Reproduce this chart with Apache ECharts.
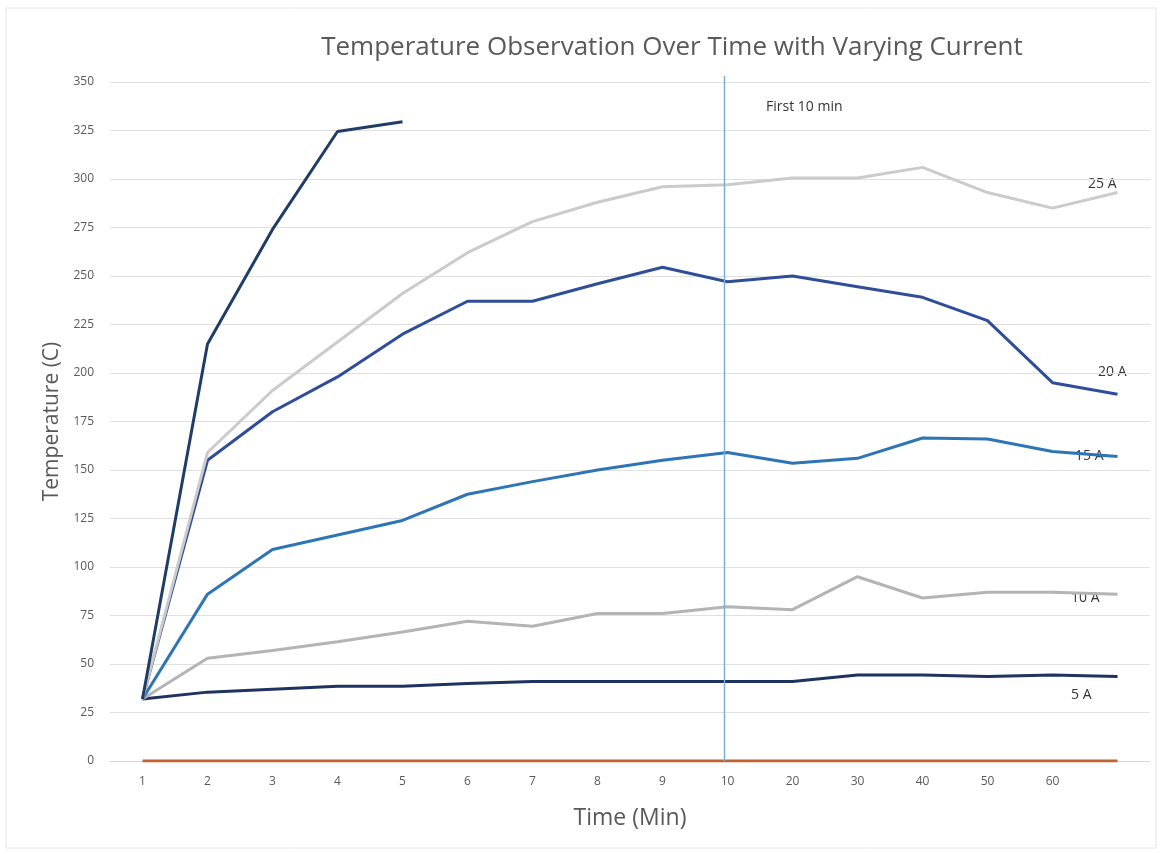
<!DOCTYPE html>
<html>
<head>
<meta charset="utf-8">
<script src="https://cdn.jsdelivr.net/npm/echarts@6/dist/echarts.min.js"></script>
<style>html,body{margin:0;padding:0;background:#fff;}#c{width:1160px;height:854px;}</style>
</head>
<body>
<div id="c"></div>
<script>
const categories = ['1','2','3','4','5','6','7','8','9','10','20','30','40','50','60',''];
const yTicks = [0,25,50,75,100,125,150,175,200,225,250,275,300,325,350];
const zeroLine = [0,0,0,0,0,0,0,0,0,0,0,0,0,0,0,0];
const a5  = [32,35.5,37,38.5,38.5,40,41,41,41,41,41,44.3,44.3,43.5,44.3,43.5];
const a10 = [32,53,57,61.5,66.5,72,69.5,76,76,79.5,78,95,84,87,87,86];
const a15 = [32,86,109,116.5,124,137.5,144,150,155,159,153.5,156,166.5,166,159.5,157];
const a20 = [32,155,180,198,220,237,237,246,254.5,247,250,244.5,239,227,195,189];
const a25 = [32,159,191,216,241,262,278,288,296,297,300.5,300.5,306,293,285,293];
const a30 = [32,215,274,324.5,329.5];
const seriesNames = ['0 A','5 A','10 A','15 A','20 A','25 A','30 A'];
const markerCategory = '10';

const chart = echarts.init(document.getElementById('c'));
const FONT = '"Open Sans", "Liberation Sans", sans-serif';
function line(name, data, color, z){
  return {name, type:'line', data, symbol:'none', smooth:false, z,
    lineStyle:{color, width:3}, itemStyle:{color}};
}
const labelGraphics = [
  {type:'rect', shape:{x:6,y:8,width:1150,height:840}, style:{fill:'none', stroke:'#e6e6e6', lineWidth:1}, z:-1},
  {type:'text', left:766, top:100, style:{text:'First 10 min', font:'14px '+FONT, fill:'#333333'}},
  {type:'text', left:1088, top:177, style:{text:'25 A', font:'14px '+FONT, fill:'#333333'}},
  {type:'text', left:1098, top:365, style:{text:'20 A', font:'14px '+FONT, fill:'#333333'}},
  {type:'text', left:1075, top:449, style:{text:'15 A', font:'14px '+FONT, fill:'#333333'}},
  {type:'text', left:1071, top:591, style:{text:'10 A', font:'14px '+FONT, fill:'#333333'}},
  {type:'text', left:1071, top:688, style:{text:'5 A', font:'14px '+FONT, fill:'#333333'}}
];
chart.setOption({
  animation:false,
  backgroundColor:'#ffffff',
  title:{text:'Temperature Observation Over Time with Varying Current', left:667, top:30, textAlign:'center',
    textStyle:{fontFamily:FONT, fontSize:26, fontWeight:'normal', color:'#595959'}},
  grid:{left:110, right:10, top:82, bottom:93},
  xAxis:{type:'category', data:categories, boundaryGap:true,
    name:'Time (Min)', nameLocation:'middle', nameGap:46,
    nameTextStyle:{fontFamily:FONT, fontSize:23, color:'#595959'},
    axisLine:{lineStyle:{color:'#d9d9d9'}}, axisTick:{show:false},
    axisLabel:{fontFamily:FONT, fontSize:12, color:'#595959', margin:15}},
  yAxis:{type:'value', min:0, max:350, interval:25,
    name:'Temperature (C)', nameLocation:'middle', nameGap:47,
    nameTextStyle:{fontFamily:FONT, fontSize:21, color:'#595959'},
    axisLine:{show:false}, axisTick:{show:false},
    axisLabel:{fontFamily:FONT, fontSize:12, color:'#595959', margin:16,
      formatter:(v)=> yTicks.includes(v) ? String(v) : ''},
    splitLine:{lineStyle:{color:'#e0e0e0', width:1}}},
  series:[
    line(seriesNames[0], zeroLine, '#c0622f', 1),
    line(seriesNames[1], a5, '#1f3360', 2),
    line(seriesNames[2], a10, '#b4b4b4', 3),
    line(seriesNames[3], a15, '#2e75b6', 4),
    line(seriesNames[4], a20, '#2f4d98', 5),
    line(seriesNames[5], a25, '#cbcbcb', 6),
    line(seriesNames[6], a30, '#1f3d66', 7)
  ],
  graphic: labelGraphics
});
const mx = Math.round(chart.convertToPixel({xAxisIndex:0}, markerCategory)) - 3.5;
const yTop = chart.convertToPixel({yAxisIndex:0}, yTicks[yTicks.length-1]) - 6;
const yBot = chart.convertToPixel({yAxisIndex:0}, 0);
chart.setOption({graphic: labelGraphics.concat([
  {type:'line', z:100, silent:true, shape:{x1:mx, y1:yTop, x2:mx, y2:yBot},
   style:{stroke:'#7aaedb', lineWidth:1.5}}
])});
</script>
</body>
</html>
